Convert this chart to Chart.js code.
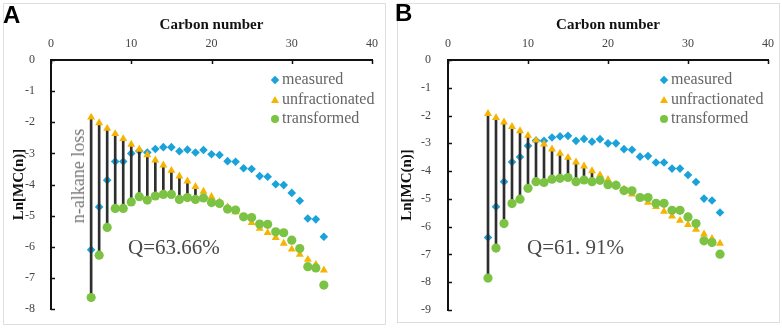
<!DOCTYPE html>
<html><head><meta charset="utf-8">
<script src="https://cdn.jsdelivr.net/npm/chart.js@4.4.1/dist/chart.umd.min.js"></script>
<style>
html,body{margin:0;padding:0;background:#fff;width:782px;height:331px;overflow:hidden;position:relative;}
.frame{position:absolute;border:1px solid #dedede;box-sizing:border-box;}
.cv{position:absolute;top:0;}
.letter{position:absolute;font:bold 24px "Liberation Sans",Arial,sans-serif;color:#000;line-height:24px;}
.legtxt{position:absolute;font:16px "Liberation Serif","Times New Roman",serif;color:#666;line-height:16px;white-space:nowrap;}
.mk{position:absolute;}
.note{position:absolute;font-family:"Liberation Serif","Times New Roman",serif;font-weight:400;color:#4a4a4a;white-space:nowrap;line-height:1;}
</style>
</head><body>
<div class="frame" style="left:3px;top:3px;width:383px;height:322px;"></div>
<div class="frame" style="left:397px;top:3px;width:383px;height:320px;"></div>
<canvas id="cA" class="cv" style="left:0px;width:390px;height:331px;" width="390" height="331"></canvas>
<canvas id="cB" class="cv" style="left:390px;width:392px;height:331px;" width="392" height="331"></canvas>
<div id="overlay"></div>
<script>
// ---------- data ----------
const carbonNumbers = [5,6,7,8,9,10,11,12,13,14,15,16,17,18,19,20,21,22,23,24,25,26,27,28,29,30,31,32,33,34];
const measuredA = [-6.10,-4.72,-3.86,-3.26,-3.26,-3.00,-2.92,-2.97,-2.86,-2.80,-2.80,-2.93,-2.88,-2.97,-2.89,-3.03,-3.05,-3.25,-3.27,-3.48,-3.50,-3.73,-3.75,-3.99,-4.02,-4.27,-4.52,-5.09,-5.12,-5.68];
const unfractionatedA = [-1.84,-2.02,-2.20,-2.37,-2.53,-2.71,-2.87,-3.05,-3.22,-3.38,-3.55,-3.73,-3.89,-4.07,-4.22,-4.39,-4.56,-4.72,-4.88,-5.05,-5.23,-5.41,-5.55,-5.71,-5.89,-6.08,-6.25,-6.41,-6.57,-6.75];
const transformedA = [-7.63,-6.27,-5.38,-4.77,-4.77,-4.56,-4.39,-4.50,-4.37,-4.32,-4.32,-4.48,-4.42,-4.48,-4.43,-4.58,-4.61,-4.79,-4.82,-5.04,-5.06,-5.27,-5.28,-5.52,-5.55,-5.79,-6.06,-6.64,-6.68,-7.23];
const measuredB = [-6.39,-5.28,-4.38,-3.67,-3.49,-3.09,-2.90,-2.91,-2.79,-2.75,-2.73,-2.91,-2.84,-2.94,-2.85,-3.00,-3.00,-3.21,-3.23,-3.48,-3.46,-3.69,-3.69,-3.91,-3.91,-4.14,-4.39,-4.99,-5.06,-5.49];
const unfractionatedB = [-1.93,-2.08,-2.24,-2.40,-2.55,-2.72,-2.89,-3.03,-3.21,-3.36,-3.51,-3.68,-3.82,-3.99,-4.14,-4.31,-4.48,-4.65,-4.83,-4.98,-5.13,-5.28,-5.45,-5.62,-5.78,-5.93,-6.10,-6.27,-6.43,-6.60];
const transformedB = [-7.85,-6.77,-5.89,-5.17,-5.01,-4.62,-4.38,-4.41,-4.29,-4.26,-4.23,-4.38,-4.32,-4.38,-4.33,-4.49,-4.51,-4.70,-4.71,-4.95,-4.95,-5.16,-5.16,-5.41,-5.41,-5.65,-5.89,-6.51,-6.57,-6.99];
const lossCarbonNumbers = [5,6,7,8,9,10,11,12,13,14,15,16,17,18];
const xTickValues = [0,10,20,30,40];
const yTickValuesA = [0,-1,-2,-3,-4,-5,-6,-7,-8];
const yTickValuesB = [0,-1,-2,-3,-4,-5,-6,-7,-8,-9];
const seriesNames = ['measured','unfractionated','transformed'];
const xTitle = 'Carbon number';
const yTitle = 'Ln[MC(n)]';
const qLabelA = 'Q=63.66%';
const qLabelB = 'Q=61. 91%';
const lossLabel = 'n-alkane loss';
const panelLetters = ['A','B'];

// ---------- style ----------
const COLORS = {measured:'#1aa2da', unfractionated:'#f6b400', transformed:'#7cc243', loss:'#2e2e2e'};
const SERIF = '"Liberation Serif","Times New Roman",serif';

function pts(vals){ return carbonNumbers.map((n,i)=>({x:n,y:vals[i]})); }
function lossBars(u,t){ return lossCarbonNumbers.map(n=>{const i=carbonNumbers.indexOf(n); return {x:n,y:[u[i],t[i]]};}); }

const inwardTicks = {
  id:'inwardTicks',
  afterDatasetsDraw(chart){
    const {ctx, chartArea:a, scales:{x,y}} = chart;
    ctx.save(); ctx.strokeStyle='#111'; ctx.lineWidth=1.5; ctx.beginPath();
    x.ticks.forEach(t=>{const px=Math.round(x.getPixelForValue(t.value))+0.5; ctx.moveTo(px,a.top); ctx.lineTo(px,a.top+4);});
    y.ticks.forEach(t=>{const py=Math.round(y.getPixelForValue(t.value))+0.5; ctx.moveTo(a.left,py); ctx.lineTo(a.left+4,py);});
    ctx.stroke(); ctx.restore();
  }
};

function makeChart(id, m, u, t, yTicks, geo){
  return new Chart(document.getElementById(id), {
    type:'scatter',
    data:{datasets:[
      {type:'bar', label:'loss', data:lossBars(u,t), backgroundColor:COLORS.loss, barThickness:2, borderWidth:0, order:4},
      {label:seriesNames[0], data:pts(m), pointStyle:'rectRot', pointRadius:4.3, backgroundColor:COLORS.measured, borderWidth:0, order:5},
      {label:seriesNames[1], data:pts(u), pointStyle:'triangle', pointRadius:4.6, backgroundColor:COLORS.unfractionated, borderWidth:0, order:2},
      {label:seriesNames[2], data:pts(t), pointStyle:'circle', pointRadius:4.6, backgroundColor:COLORS.transformed, borderWidth:0, order:1}
    ]},
    options:{
      responsive:false, animation:false, devicePixelRatio:1,
      layout:{padding:{left:0, top:0, right:geo.right, bottom:geo.bottom}},
      plugins:{legend:{display:false}, tooltip:{enabled:false}},
      scales:{
        x:{type:'linear', position:'top', min:0, max:40, offset:false,
           grid:{display:false, offset:false}, border:{display:true, color:'#111', width:2},
           afterBuildTicks:s=>{s.ticks = xTickValues.map(v=>({value:v}));},
           ticks:{font:{family:SERIF,size:12}, color:'#444', padding:1},
           title:{display:true, text:xTitle, color:'#111', font:{family:SERIF,size:15,weight:'bold'}, padding:{top:16,bottom:0}},
           afterFit:s=>{s.height=60;}},
        y:{type:'linear', position:'left', min:yTicks[yTicks.length-1], max:0,
           grid:{display:false}, border:{display:true, color:'#111', width:2},
           afterBuildTicks:s=>{s.ticks = yTicks.map(v=>({value:v}));},
           ticks:{font:{family:SERIF,size:12}, color:'#444', padding:geo.tickPad},
           title:{display:true, text:yTitle, color:'#111', font:{family:SERIF,size:15,weight:'bold'}, padding:{top:geo.titlePad,bottom:0}},
           afterFit:s=>{s.width=geo.left;}}
      }
    },
    plugins:[inwardTicks]
  });
}

makeChart('cA', measuredA, unfractionatedA, transformedA, yTickValuesA, {left:51, right:18, bottom:22, tickPad:8, titlePad:10});
makeChart('cB', measuredB, unfractionatedB, transformedB, yTickValuesB, {left:58, right:14, bottom:21, tickPad:9, titlePad:8});

// ---------- overlay text (legend, annotations, panel letters) ----------
const ov = document.getElementById('overlay');
function add(html){ ov.insertAdjacentHTML('beforeend', html); }
function marker(kind, cx, cy){
  const c = COLORS[kind];
  if(kind==='measured') return `<div class="mk" style="left:${cx-3}px;top:${cy-3}px;width:6px;height:6px;background:${c};transform:rotate(45deg);"></div>`;
  if(kind==='unfractionated') return `<div class="mk" style="left:${cx-4}px;top:${cy-4}px;width:0;height:0;border-left:4px solid transparent;border-right:4px solid transparent;border-bottom:7px solid ${c};"></div>`;
  return `<div class="mk" style="left:${cx-4}px;top:${cy-4}px;width:8px;height:8px;border-radius:50%;background:${c};"></div>`;
}
function legend(mx, tx, rows){
  seriesNames.forEach((name,i)=>{
    add(marker(name, mx, rows[i]));
    add(`<div class="legtxt" style="left:${tx}px;top:${rows[i]-9}px;">${name}</div>`);
  });
}
legend(275, 282, [80,99.5,118.5]);
legend(664, 671, [80,99.5,119]);
add(`<div class="letter" style="left:3px;top:3px;">${panelLetters[0]}</div>`);
add(`<div class="letter" style="left:395px;top:1px;">${panelLetters[1]}</div>`);
add(`<div class="note" style="left:128px;top:237px;font-size:21px;">${qLabelA}</div>`);
add(`<div class="note" style="left:527px;top:237px;font-size:21px;">${qLabelB}</div>`);
add(`<div class="note" style="left:78px;top:176px;font-size:18px;transform:translate(-50%,-50%) rotate(-90deg);color:#777;">${lossLabel}</div>`);
</script>
</body></html>
